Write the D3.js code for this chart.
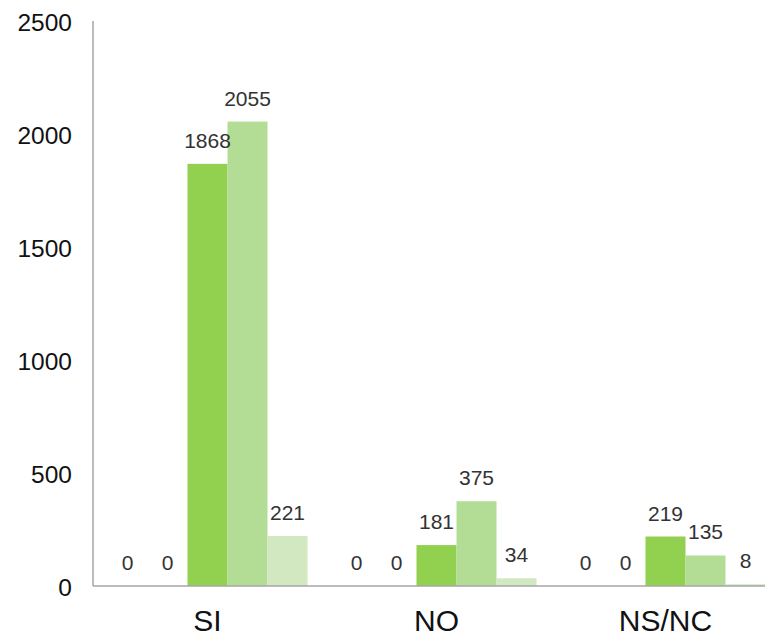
<!DOCTYPE html>
<html>
<head>
<meta charset="utf-8">
<script src="https://cdn.jsdelivr.net/npm/d3@7"></script>
<style>
  html, body { margin: 0; padding: 0; background: #fff; }
  svg { display: block; }
</style>
</head>
<body>
<svg id="chart" width="765" height="638"></svg>
<script>
const categories = ["SI", "NO", "NS/NC"];
const seriesNames = ["S1", "S2", "S3", "S4", "S5"];
const series1 = [0, 0, 0];
const series2 = [0, 0, 0];
const series3 = [1868, 181, 219];
const series4 = [2055, 375, 135];
const series5 = [221, 34, 8];
const yTicks = [0, 500, 1000, 1500, 2000, 2500];
const colors = ["#92d050", "#92d050", "#92d050", "#b3dd95", "#d1e8c0"];

const allSeries = [series1, series2, series3, series4, series5];
const data = categories.map((c, i) => ({
  cat: c,
  values: seriesNames.map((s, j) => ({ key: s, idx: j, value: allSeries[j][i] }))
}));

const svg = d3.select("#chart");
const left = 93, baseY = 586, topY = 21;

const y = d3.scaleLinear().domain([0, 2500]).range([baseY, topY]);
const x0 = d3.scaleBand().domain(categories).range([left, left + 687])
  .paddingInner(29 / 229).paddingOuter(14.5 / 229);
const x1 = d3.scaleBand().domain(seriesNames).range([0, x0.bandwidth()]);

// axes lines
svg.append("line").attr("x1", left).attr("x2", left).attr("y1", topY).attr("y2", baseY)
  .attr("stroke", "#a6a6a6").attr("stroke-width", 1.5);

// y tick labels
const yAxis = d3.axisLeft(y).tickValues(yTicks).tickSize(0).tickPadding(21).tickFormat(d3.format("d"));
const gy = svg.append("g").attr("transform", `translate(${left},0)`).call(yAxis);
gy.select(".domain").remove();
gy.selectAll("text").attr("font-family", "Arial, 'Liberation Sans', sans-serif")
  .attr("font-size", 24.5).attr("fill", "#111").attr("dy", "0.4em");

// bars
const groups = svg.append("g").selectAll("g").data(data).join("g")
  .attr("transform", d => `translate(${x0(d.cat)},0)`);

groups.selectAll("rect").data(d => d.values).join("rect")
  .attr("x", d => x1(d.key))
  .attr("width", x1.bandwidth())
  .attr("y", d => y(d.value))
  .attr("height", d => baseY - y(d.value))
  .attr("fill", d => colors[d.idx]);

groups.selectAll("text").data(d => d.values).join("text")
  .attr("x", d => x1(d.key) + x1.bandwidth() / 2)
  .attr("y", d => y(d.value) - 16)
  .attr("text-anchor", "middle")
  .attr("font-family", "Arial, 'Liberation Sans', sans-serif")
  .attr("font-size", 21)
  .attr("fill", "#333")
  .text(d => d.value);

// x axis line
svg.append("line").attr("x1", left).attr("x2", 765).attr("y1", baseY).attr("y2", baseY)
  .attr("stroke", "#a6a6a6").attr("stroke-width", 1.5);

// x category labels
const xAxis = d3.axisBottom(x0).tickSize(0).tickPadding(24);
const gx = svg.append("g").attr("transform", `translate(0,${baseY})`).call(xAxis);
gx.select(".domain").remove();
gx.selectAll("text").attr("font-family", "Arial, 'Liberation Sans', sans-serif")
  .attr("font-size", 30).attr("fill", "#111");
</script>
</body>
</html>
